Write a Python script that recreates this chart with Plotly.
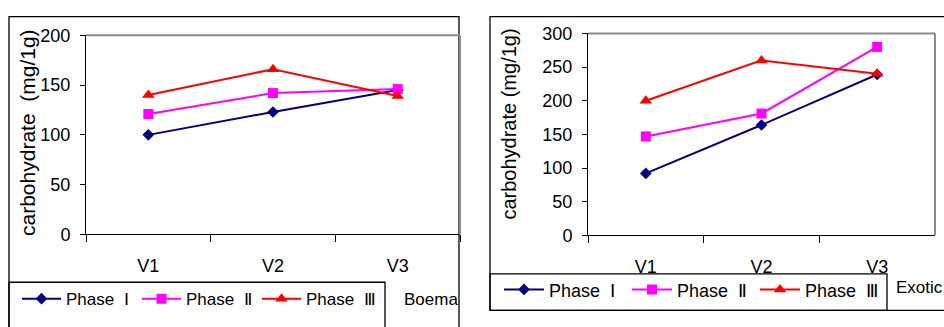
import plotly.graph_objects as go

# ---- data -------------------------------------------------------------
categories = ["V1", "V2", "V3"]
series_names = ["Phase\u00a0\u00a0Ⅰ", "Phase\u00a0\u00a0Ⅱ", "Phase\u00a0\u00a0Ⅲ"]

boema_phase1 = [100, 123, 145]
boema_phase2 = [121, 142, 146]
boema_phase3 = [140, 166, 139]

exotic_phase1 = [92, 164, 239]
exotic_phase2 = [147, 181, 280]
exotic_phase3 = [200, 260, 240]

boema_ticks = [0, 50, 100, 150, 200]
exotic_ticks = [0, 50, 100, 150, 200, 250, 300]

# ---- styling ----------------------------------------------------------
W, H = 944, 327
FONT = "Liberation Sans, Arial, sans-serif"
colors = ["#000080", "#FF00FF", "#FF0000"]
symbols = ["diamond", "square", "triangle-up"]
msizes = [9, 10, 11]


def px(x):
    return x / W


def py(y):
    return 1 - y / H


fig = go.Figure()

for i, vals in enumerate([boema_phase1, boema_phase2, boema_phase3]):
    fig.add_trace(go.Scatter(
        x=categories, y=vals, name=series_names[i], mode="lines+markers",
        line=dict(color=colors[i], width=2),
        marker=dict(symbol=symbols[i], size=msizes[i], color=colors[i]),
        xaxis="x", yaxis="y", legend="legend", cliponaxis=False,
    ))

for i, vals in enumerate([exotic_phase1, exotic_phase2, exotic_phase3]):
    fig.add_trace(go.Scatter(
        x=categories, y=vals, name=series_names[i], mode="lines+markers",
        line=dict(color=colors[i], width=2),
        marker=dict(symbol=symbols[i], size=msizes[i], color=colors[i]),
        xaxis="x2", yaxis="y2", legend="legend2", cliponaxis=False,
    ))

xcommon = dict(
    type="category", range=[-0.5, 2.5], tickson="boundaries",
    ticks="outside", ticklen=7, tickcolor="black", tickwidth=1,
    showline=True, linecolor="black", linewidth=1, showgrid=False,
    tickfont=dict(size=18, color="black"), ticklabelstandoff=15,
)
ycommon = dict(
    ticks="outside", ticklen=5, tickcolor="black", tickwidth=1,
    showline=True, linecolor="black", linewidth=1, showgrid=False,
    zeroline=False, tickfont=dict(size=18, color="black"),
    ticklabelstandoff=6,
)

legcommon = dict(
    orientation="h", xanchor="left", yanchor="middle",
    bgcolor="rgba(0,0,0,0)", borderwidth=0, entrywidthmode="pixels",
    tracegroupgap=0,
)

fig.update_layout(
    width=W, height=H,
    margin=dict(l=0, r=0, t=0, b=0),
    paper_bgcolor="white", plot_bgcolor="white",
    font=dict(family=FONT, color="black", size=17),
    xaxis=dict(domain=[px(86), px(460)], anchor="y", **xcommon),
    yaxis=dict(domain=[py(239), py(27)], anchor="x", range=[0, 200],
               tickvals=boema_ticks, **ycommon),
    xaxis2=dict(domain=[px(588), px(935)], anchor="y2", **xcommon),
    yaxis2=dict(domain=[py(240), py(25)], anchor="x2", range=[0, 300],
                tickvals=exotic_ticks, **ycommon),
    legend=dict(x=px(17), y=py(308), font=dict(size=17),
                itemwidth=39, entrywidth=66, **legcommon),
    legend2=dict(x=px(499), y=py(298), font=dict(size=18),
                 itemwidth=40, entrywidth=73, **legcommon),
)

shapes = []
# grey top/right plot-area border
for xr, yr in (("x domain", "y domain"), ("x2 domain", "y2 domain")):
    shapes.append(dict(type="line", xref=xr, yref=yr, x0=0, x1=1, y0=1, y1=1,
                       line=dict(color="#8c8c8c", width=2)))
    shapes.append(dict(type="line", xref=xr, yref=yr, x0=1, x1=1, y0=0, y1=1,
                       line=dict(color="#8c8c8c", width=2)))
# chart frames and legend boxes
boxes = [
    (9, 459, 7, 345),
    (490, 960, 7, 320),
    (9, 385, 290, 345),
    (490, 887, 281, 320),
]
for x0, x1, y0, y1 in boxes:
    shapes.append(dict(type="rect", xref="paper", yref="paper",
                       x0=px(x0), x1=px(x1), y0=py(y1), y1=py(y0),
                       line=dict(color="black", width=1.3), layer="below"))
fig.update_layout(shapes=shapes)

annotations = [
    dict(text="carbohydrate\u00a0\u00a0(mg/1g)", x=px(28), y=py(131),
         textangle=-90, font=dict(size=21)),
    dict(text="carbohydrate (mg/1g)", x=px(509), y=py(121),
         textangle=-90, font=dict(size=20)),
    dict(text="Boema", x=px(402), y=py(308), xanchor="left",
         font=dict(size=17)),
    dict(text="Exotic", x=px(894), y=py(296), xanchor="left",
         font=dict(size=17)),
]
for a in annotations:
    a.update(xref="paper", yref="paper", showarrow=False)
    a.setdefault("xanchor", "center")
    a.setdefault("yanchor", "middle")
fig.update_layout(annotations=annotations)

fig.write_html("out.html")
